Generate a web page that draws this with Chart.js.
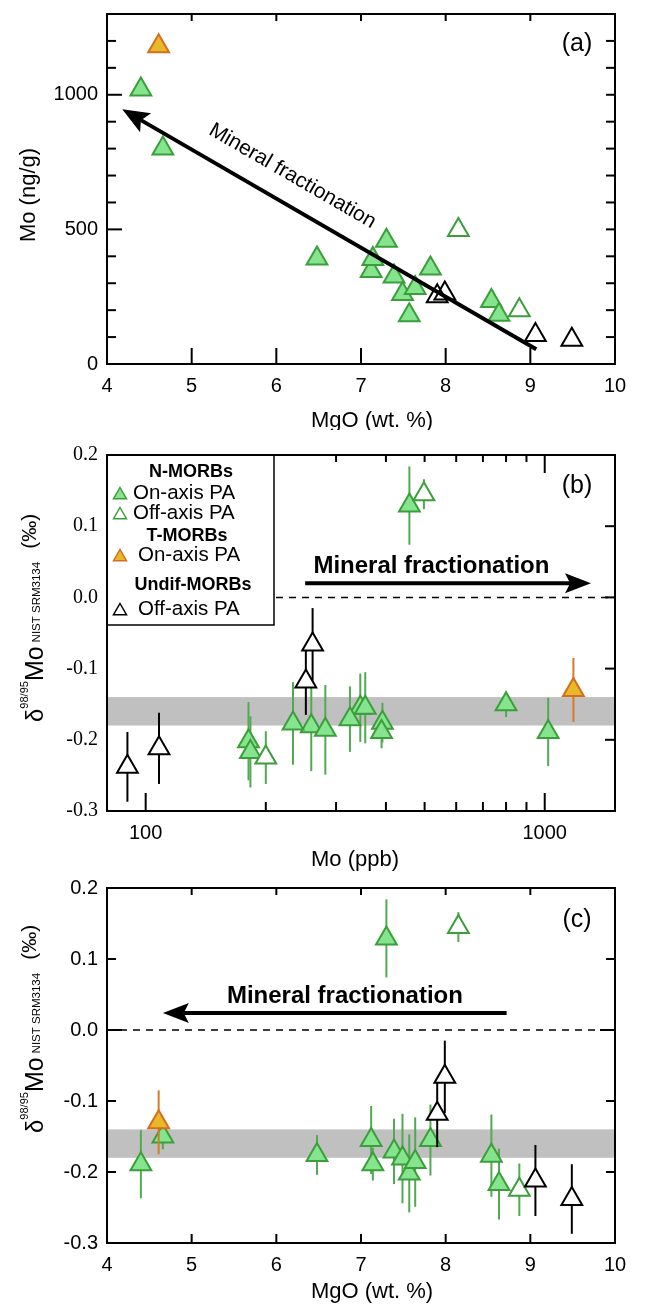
<!DOCTYPE html>
<html>
<head>
<meta charset="utf-8">
<script src="https://cdn.jsdelivr.net/npm/chart.js@4.4.1/dist/chart.umd.min.js"></script>
<style>
  html, body { margin: 0; padding: 0; background: #fff; }
  #wrap { position: relative; width: 645px; height: 1307px; }
  #wrap canvas { position: absolute; left: 0; }
</style>
</head>
<body>
<div id="wrap">
  <canvas id="panelA" width="645" height="430" style="top:0px"></canvas>
  <canvas id="panelB" width="645" height="442" style="top:430px"></canvas>
  <canvas id="panelC" width="645" height="435" style="top:872px"></canvas>
</div>
<script>
const SANS = '"Liberation Sans", Arial, sans-serif';
const SERIF = '"Liberation Serif", "Times New Roman", serif';

// one entry per sample, same order in every array
const sampleGroup = ['T-on', 'N-on', 'N-on', 'N-on', 'N-on', 'N-on', 'N-on', 'N-on', 'N-on', 'N-on',
                     'N-on', 'N-on', 'U-off', 'U-off', 'N-off', 'N-on', 'N-on', 'N-off', 'U-off', 'U-off'];
const mgo    = [4.61, 4.40, 4.66, 6.48, 7.30, 7.12, 7.14, 7.39, 7.49, 7.57,
                7.64, 7.82, 7.90, 7.99, 8.15, 8.54, 8.63, 8.87, 9.06, 9.49];
const moPpb  = [1180, 1020, 800, 392, 458, 345, 390, 325, 260, 181,
                282, 355, 252, 262, 498, 234, 183, 200, 108, 90];
const d98    = [-0.130, -0.189, -0.150, -0.176, 0.129, -0.155, -0.189, -0.171, -0.181, -0.202,
                -0.186, -0.155, -0.118, -0.066, 0.145, -0.177, -0.217, -0.225, -0.212, -0.238];
const d98Err = [0.045, 0.048, 0.018, 0.028, 0.055, 0.048, 0.023, 0.046, 0.063, 0.055,
                0.063, 0.050, 0.047, 0.051, 0.021, 0.058, 0.050, 0.037, 0.050, 0.049];

// axis ticks
const mgoMajor = [4, 5, 6, 7, 8, 9, 10];
const moMajorA = [0, 500, 1000];
const moMinorA = [100, 200, 300, 400, 600, 700, 800, 900, 1100, 1200];
const moMajorB = [100, 1000];
const moMinorB = [200, 300, 400, 500, 600, 700, 800, 900];
const deltaMajor = [-0.3, -0.2, -0.1, 0.0, 0.1, 0.2];
const refBand = [-0.18, -0.14];

const seriesOrder = ['N-on', 'N-off', 'T-on', 'U-off'];
const seriesStyle = {
  'N-on':  { fill: 'rgb(134,228,142)', stroke: 'rgb(58,158,58)', bar: 'rgb(80,170,80)', open: false },
  'N-off': { fill: 'rgb(134,228,142)', stroke: 'rgb(58,158,58)', bar: 'rgb(80,170,80)', open: true },
  'T-on':  { fill: 'rgb(232,184,42)', stroke: 'rgb(212,110,28)', bar: 'rgb(214,122,40)', open: false },
  'U-off': { fill: '#000', stroke: '#000', bar: '#000', open: true }
};

Chart.defaults.font.family = SANS;
Chart.defaults.color = '#000';

function groupIndex(g) {
  return sampleGroup.map((s, i) => s === g ? i : -1).filter(i => i >= 0);
}

function makeDatasets(xs, ys, openFill) {
  return seriesOrder.map((g, k) => {
    const st = seriesStyle[g];
    return {
      label: g,
      order: seriesOrder.length - k,
      data: groupIndex(g).map(i => ({ x: xs[i], y: ys[i], err: d98Err[i] })),
      pointStyle: 'triangle',
      pointRadius: 12,
      pointHoverRadius: 12,
      pointBorderWidth: 2,
      pointBackgroundColor: st.open ? openFill : st.fill,
      pointBorderColor: st.stroke,
      barColor: st.bar
    };
  });
}

function drawTriangle(ctx, x, y, r, fill, stroke, lw) {
  ctx.beginPath();
  ctx.moveTo(x, y - r);
  ctx.lineTo(x + 0.866 * r, y + 0.5 * r);
  ctx.lineTo(x - 0.866 * r, y + 0.5 * r);
  ctx.closePath();
  if (fill) { ctx.fillStyle = fill; ctx.fill(); }
  ctx.lineWidth = lw;
  ctx.strokeStyle = stroke;
  ctx.stroke();
}

function drawArrow(ctx, p0, p1, lw, len, half) {
  const ang = Math.atan2(p1.y - p0.y, p1.x - p0.x);
  const c = Math.cos(ang), s = Math.sin(ang);
  const bx = p1.x - len * c, by = p1.y - len * s;
  const nx = p1.x - len * 0.8 * c, ny = p1.y - len * 0.8 * s;
  ctx.strokeStyle = '#000';
  ctx.fillStyle = '#000';
  ctx.lineWidth = lw;
  ctx.beginPath();
  ctx.moveTo(p0.x, p0.y);
  ctx.lineTo(nx, ny);
  ctx.stroke();
  ctx.beginPath();
  ctx.moveTo(p1.x, p1.y);
  ctx.lineTo(bx - half * s, by + half * c);
  ctx.lineTo(nx, ny);
  ctx.lineTo(bx + half * s, by - half * c);
  ctx.closePath();
  ctx.fill();
}

function drawDeltaTitle(ctx, xBase, yBottom) {
  ctx.save();
  ctx.translate(xBase, yBottom);
  ctx.rotate(-Math.PI / 2);
  ctx.textAlign = 'left';
  ctx.textBaseline = 'alphabetic';
  ctx.fillStyle = '#000';
  const parts = [
    { t: 'δ', f: '24px ' + SANS, v: 0, gap: 0 },
    { t: '98/95', f: '11px ' + SANS, v: -15, gap: 0 },
    { t: 'Mo', f: '25px ' + SANS, v: 0, gap: 0 },
    { t: 'NIST SRM3134', f: '11.5px ' + SANS, v: -3, gap: 4 },
    { t: '(‰)', f: '21px ' + SANS, v: -7, gap: 13 }
  ];
  let u = 0;
  parts.forEach(p => {
    ctx.font = p.f;
    u += p.gap;
    ctx.fillText(p.t, u, p.v);
    u += ctx.measureText(p.t).width;
  });
  ctx.restore();
}

// error bars, drawn just under each series' markers
const errorBars = {
  id: 'errorBars',
  beforeDatasetDraw(chart, args) {
    const ds = chart.data.datasets[args.index];
    const { ctx, scales: { x, y } } = chart;
    ctx.save();
    ctx.strokeStyle = ds.barColor;
    ctx.lineWidth = 2;
    ds.data.forEach(p => {
      const px = x.getPixelForValue(p.x);
      ctx.beginPath();
      ctx.moveTo(px, y.getPixelForValue(p.y + p.err));
      ctx.lineTo(px, y.getPixelForValue(p.y - p.err));
      ctx.stroke();
    });
    ctx.restore();
  }
};

function makeDecor(cfg) {
  return {
    id: 'decor',
    beforeDatasetsDraw(chart) {
      const { ctx, chartArea: a, scales: { y } } = chart;
      ctx.save();
      if (cfg.band) {
        const t = y.getPixelForValue(cfg.band[1]);
        const b = y.getPixelForValue(cfg.band[0]);
        ctx.fillStyle = 'rgb(192,192,192)';
        ctx.fillRect(a.left, t, a.right - a.left, b - t);
      }
      if (cfg.zeroLine) {
        const py = y.getPixelForValue(0);
        ctx.setLineDash([7, 6]);
        ctx.lineWidth = 1.5;
        ctx.strokeStyle = '#000';
        ctx.beginPath();
        ctx.moveTo(a.left, py);
        ctx.lineTo(a.right, py);
        ctx.stroke();
        ctx.setLineDash([]);
      }
      ctx.restore();
    },
    afterDatasetsDraw(chart) {
      const { ctx, scales: { x, y } } = chart;
      ctx.save();
      const ar = cfg.arrow;
      const p0 = { x: x.getPixelForValue(ar.from[0]), y: y.getPixelForValue(ar.from[1]) };
      const p1 = { x: x.getPixelForValue(ar.to[0]), y: y.getPixelForValue(ar.to[1]) };
      drawArrow(ctx, p0, p1, ar.width, ar.head[0], ar.head[1]);
      const lb = cfg.label;
      ctx.translate(x.getPixelForValue(lb.at[0]), y.getPixelForValue(lb.at[1]));
      if (lb.alongArrow) ctx.rotate(Math.atan2(p0.y - p1.y, p0.x - p1.x));
      ctx.font = lb.font;
      ctx.fillStyle = '#000';
      ctx.textAlign = 'center';
      ctx.textBaseline = lb.baseline;
      ctx.fillText(lb.text, 0, 0);
      ctx.restore();
    },
    afterDraw(chart) {
      const { ctx, chartArea: a, scales: { x, y } } = chart;
      ctx.save();
      ctx.strokeStyle = '#000';
      ctx.lineWidth = 2;
      // inward tick marks on every side
      cfg.ticks.forEach(t => {
        t.vals.forEach(v => {
          ctx.beginPath();
          if (t.side === 'bottom' || t.side === 'top') {
            const px = x.getPixelForValue(v);
            const y0 = t.side === 'bottom' ? a.bottom : a.top;
            ctx.moveTo(px, y0);
            ctx.lineTo(px, t.side === 'bottom' ? y0 - t.len : y0 + t.len);
          } else {
            const py = y.getPixelForValue(v);
            const x0 = t.side === 'left' ? a.left : a.right;
            ctx.moveTo(x0, py);
            ctx.lineTo(t.side === 'left' ? x0 + t.len : x0 - t.len, py);
          }
          ctx.stroke();
        });
      });
      if (cfg.legend) drawLegend(ctx, a);
      ctx.lineWidth = 2;
      ctx.strokeStyle = '#000';
      ctx.strokeRect(a.left, a.top, a.right - a.left, a.bottom - a.top);

      ctx.fillStyle = '#000';
      ctx.font = '25px ' + SANS;
      ctx.textAlign = 'center';
      ctx.textBaseline = 'middle';
      ctx.fillText(cfg.panel, a.right - 38, a.top + cfg.panelDy);

      ctx.font = '22px ' + SANS;
      ctx.textBaseline = 'alphabetic';
      ctx.fillText(cfg.xTitle, (a.left + a.right) / 2 + cfg.xTitleDx, a.bottom + cfg.xTitleDy);

      if (cfg.yTitle) {
        ctx.save();
        ctx.translate(35, cfg.yTitleY);
        ctx.rotate(-Math.PI / 2);
        ctx.fillText(cfg.yTitle, 0, 0);
        ctx.restore();
      } else {
        drawDeltaTitle(ctx, 43, cfg.deltaBottom);
      }
      ctx.restore();
    }
  };
}

function drawLegend(ctx, a) {
  const L = a.left, T = a.top;
  ctx.save();
  ctx.fillStyle = '#fff';
  ctx.fillRect(L, T, 167, 170);
  ctx.lineWidth = 1.5;
  ctx.strokeStyle = '#000';
  ctx.strokeRect(L, T, 167, 170);
  ctx.fillStyle = '#000';
  ctx.textBaseline = 'middle';
  const heads = [['N-MORBs', 84, 17], ['T-MORBs', 80, 81], ['Undif-MORBs', 86, 130]];
  ctx.font = 'bold 18px ' + SANS;
  ctx.textAlign = 'center';
  heads.forEach(h => ctx.fillText(h[0], L + h[1], T + h[2]));
  const rows = [
    ['N-on', 'On-axis PA', 26, 38],
    ['N-off', 'Off-axis PA', 26, 58],
    ['T-on', 'On-axis PA', 31, 100],
    ['U-off', 'Off-axis PA', 31, 154]
  ];
  ctx.font = '20.5px ' + SANS;
  ctx.textAlign = 'left';
  rows.forEach(r => {
    const st = seriesStyle[r[0]];
    drawTriangle(ctx, L + 13, T + r[3] + 2, 7.5, st.open ? null : st.fill, st.stroke, 1.5);
    ctx.fillStyle = '#000';
    ctx.fillText(r[1], L + r[2], T + r[3]);
  });
  ctx.restore();
}

function tickList(vals) {
  return s => { s.ticks = vals.map(v => ({ value: v })); };
}

function baseOptions(padTop, xHeight, xScale, yScale) {
  return {
    responsive: false,
    animation: false,
    devicePixelRatio: 1,
    events: [],
    layout: { padding: { top: padTop, right: 30, left: 0, bottom: 0 } },
    plugins: { legend: { display: false }, tooltip: { enabled: false } },
    scales: {
      x: Object.assign({
        grid: { display: false, drawTicks: false },
        border: { display: false },
        afterFit: s => { s.height = xHeight; s.paddingLeft = 0; s.paddingRight = 0; }
      }, xScale),
      y: Object.assign({
        grid: { display: false, drawTicks: false },
        border: { display: false },
        afterFit: s => { s.width = 107; s.paddingTop = 0; s.paddingBottom = 0; }
      }, yScale)
    }
  };
}

// (a) Mo vs MgO
new Chart(document.getElementById('panelA'), {
  type: 'scatter',
  data: { datasets: makeDatasets(mgo, moPpb, 'rgba(255,255,255,0)') },
  options: baseOptions(9, 66,
    { type: 'linear', min: 4, max: 10, afterBuildTicks: tickList(mgoMajor),
      ticks: { autoSkip: false, padding: 10, font: { size: 20, family: SANS }, color: '#000',
               callback: v => String(v) } },
    { type: 'linear', min: 0, max: 1300, afterBuildTicks: tickList(moMajorA),
      ticks: { autoSkip: false, padding: 9, font: { size: 20, family: SANS }, color: '#000',
               callback: v => String(v) } }),
  plugins: [makeDecor({
    ticks: [
      { side: 'bottom', vals: mgoMajor, len: 16 },
      { side: 'top', vals: mgoMajor, len: 7 },
      { side: 'left', vals: moMajorA, len: 15 },
      { side: 'left', vals: moMinorA, len: 9 },
      { side: 'right', vals: moMajorA.concat(moMinorA), len: 9 }
    ],
    arrow: { from: [9.07, 55], to: [4.18, 946], width: 4, head: [27, 11] },
    label: { text: 'Mineral fractionation', at: [6.19, 698], font: '21px ' + SANS,
             baseline: 'middle', alongArrow: true },
    panel: '(a)', panelDy: 30,
    xTitle: 'MgO (wt. %)', xTitleDx: 11, xTitleDy: 63,
    yTitle: 'Mo (ng/g)', yTitleY: 195
  })]
});

// (b) delta98Mo vs Mo
new Chart(document.getElementById('panelB'), {
  type: 'scatter',
  data: { datasets: makeDatasets(moPpb, d98, '#fff') },
  options: baseOptions(25, 61,
    { type: 'logarithmic', min: 80, max: 1500, afterBuildTicks: tickList(moMajorB),
      ticks: { autoSkip: false, padding: 10, font: { size: 20, family: SANS }, color: '#000',
               callback: v => String(v) } },
    { type: 'linear', min: -0.3, max: 0.2, afterBuildTicks: tickList(deltaMajor),
      ticks: { autoSkip: false, padding: 9, font: { size: 20, family: SERIF }, color: '#000',
               callback: v => v.toFixed(1) } }),
  plugins: [errorBars, makeDecor({
    band: refBand, zeroLine: true, legend: true,
    ticks: [
      { side: 'bottom', vals: moMajorB, len: 18 },
      { side: 'bottom', vals: moMinorB, len: 9 },
      { side: 'top', vals: moMajorB, len: 18 },
      { side: 'top', vals: moMinorB, len: 7 },
      { side: 'right', vals: deltaMajor, len: 10 }
    ],
    arrow: { from: [251, 0.02], to: [1306, 0.02], width: 4, head: [26, 10] },
    label: { text: 'Mineral fractionation', at: [520, 0.034], font: 'bold 24px ' + SANS,
             baseline: 'alphabetic', alongArrow: false },
    panel: '(b)', panelDy: 31,
    xTitle: 'Mo (ppb)', xTitleDx: -6, xTitleDy: 55,
    deltaBottom: 292
  })]
});

// (c) delta98Mo vs MgO
new Chart(document.getElementById('panelC'), {
  type: 'scatter',
  data: { datasets: makeDatasets(mgo, d98, '#fff') },
  options: baseOptions(16, 64,
    { type: 'linear', min: 4, max: 10, afterBuildTicks: tickList(mgoMajor),
      ticks: { autoSkip: false, padding: 10, font: { size: 20, family: SANS }, color: '#000',
               callback: v => String(v) } },
    { type: 'linear', min: -0.3, max: 0.2, afterBuildTicks: tickList(deltaMajor),
      ticks: { autoSkip: false, padding: 9, font: { size: 20, family: SANS }, color: '#000',
               callback: v => v.toFixed(1) } }),
  plugins: [errorBars, makeDecor({
    band: refBand, zeroLine: true,
    ticks: [
      { side: 'bottom', vals: mgoMajor, len: 9 },
      { side: 'top', vals: mgoMajor, len: 7 },
      { side: 'left', vals: deltaMajor, len: 9 },
      { side: 'left', vals: [0], len: 15 },
      { side: 'right', vals: deltaMajor, len: 9 },
      { side: 'right', vals: [0], len: 15 }
    ],
    arrow: { from: [8.72, 0.024], to: [4.66, 0.024], width: 4, head: [26, 10] },
    label: { text: 'Mineral fractionation', at: [6.81, 0.038], font: 'bold 24px ' + SANS,
             baseline: 'alphabetic', alongArrow: false },
    panel: '(c)', panelDy: 32,
    xTitle: 'MgO (wt. %)', xTitleDx: 11, xTitleDy: 55,
    deltaBottom: 261
  })]
});
</script>
</body>
</html>
